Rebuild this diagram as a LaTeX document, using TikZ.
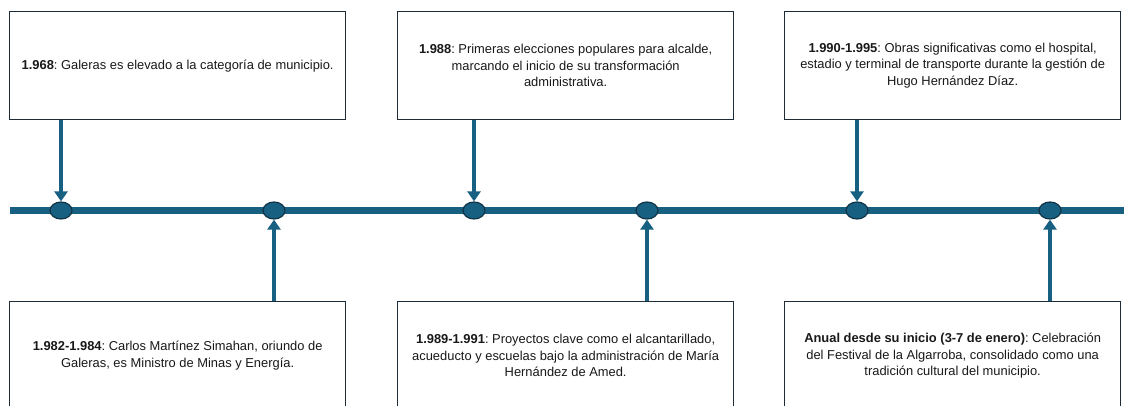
\documentclass[tikz,border=0pt]{standalone}
\usepackage{fontspec}
\setmainfont{Liberation Sans}
\usetikzlibrary{arrows.meta,shapes.geometric}
\definecolor{tl}{RGB}{24,96,130}
\definecolor{dotb}{RGB}{16,52,70}
\definecolor{boxb}{RGB}{30,44,56}
\definecolor{txt}{RGB}{25,25,25}
\frenchspacing
\begin{document}
\begin{tikzpicture}[x=1pt,y=-1pt,
  box/.style={draw=boxb,line width=1.3pt,fill=white,minimum width=336pt,minimum height=108pt,
    inner sep=0pt,align=center,text=txt,font=\fontsize{12.9}{16.5}\selectfont,anchor=north west},
  dot/.style={ellipse,draw=dotb,fill=tl,line width=1.2pt,minimum width=22pt,minimum height=17pt,inner sep=0pt},
  conn/.style={draw=tl,line width=4pt,-{Triangle[width=13pt,length=10pt]}}]
\clip (0,0) rectangle (1124,406);
\fill[white] (0,0) rectangle (1124,406);
\coordinate (ls) at (10,210.5);
\coordinate (le) at (1124,210.5);
\draw[tl,line width=6.5pt] (ls) -- (le);

\node[box] (t1) at (9,11) {\textbf{1.968}: Galeras es elevado a la categoría de municipio.};
\node[box] (t2) at (397,11) {\textbf{1.988}: Primeras elecciones populares para alcalde,\\ marcando el inicio de su transformación\\ administrativa.};
\node[box] (t3) at (784,11) {\textbf{1.990-1.995}: Obras significativas como el hospital,\\ estadio y terminal de transporte durante la gestión de\\ Hugo Hernández Díaz.};
\node[box] (b1) at (9,301) {\textbf{1.982-1.984}: Carlos Martínez Simahan, oriundo de\\ Galeras, es Ministro de Minas y Energía.};
\node[box] (b2) at (397,301) {\textbf{1.989-1.991}: Proyectos clave como el alcantarillado,\\ acueducto y escuelas bajo la administración de María\\ Hernández de Amed.};
\node[box] (b3) at (784,301) {\textbf{Anual desde su inicio (3-7 de enero)}: Celebración\\ del Festival de la Algarroba, consolidado como una\\ tradición cultural del municipio.};

\node[dot] (d1) at (61,210.5) {};
\node[dot] (d2) at (274,210.5) {};
\node[dot] (d3) at (474,210.5) {};
\node[dot] (d4) at (647,210.5) {};
\node[dot] (d5) at (857,210.5) {};
\node[dot] (d6) at (1050,210.5) {};

\draw[conn] (t1.south -| d1) -- (d1.north);
\draw[conn] (t2.south -| d3) -- (d3.north);
\draw[conn] (t3.south -| d5) -- (d5.north);
\draw[conn] (b1.north -| d2) -- (d2.south);
\draw[conn] (b2.north -| d4) -- (d4.south);
\draw[conn] (b3.north -| d6) -- (d6.south);
\end{tikzpicture}
\end{document}
